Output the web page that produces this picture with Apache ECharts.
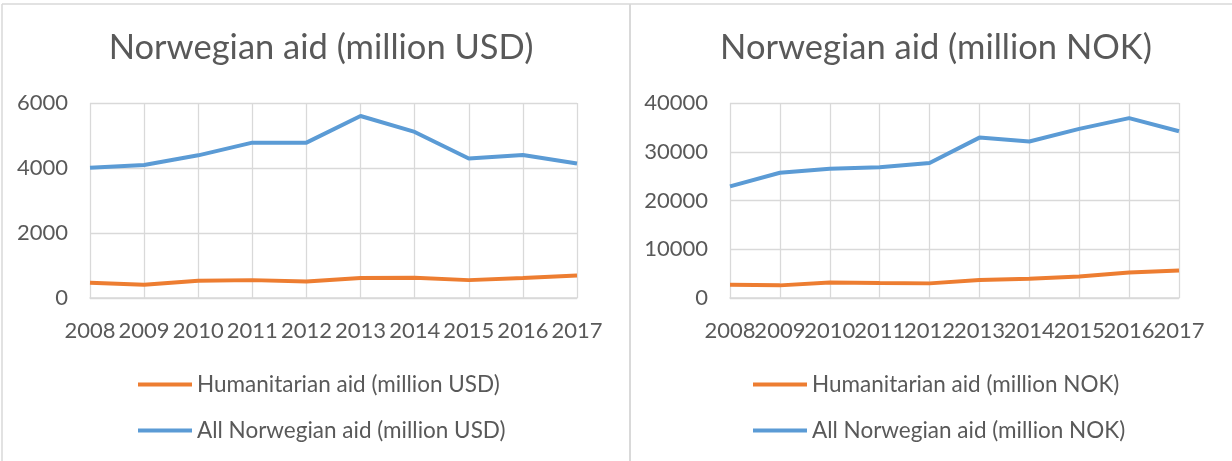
<!DOCTYPE html>
<html>
<head>
<meta charset="utf-8">
<script src="https://cdn.jsdelivr.net/npm/echarts@6/dist/echarts.min.js"></script>
<style>
html,body{margin:0;padding:0;background:#fff;}
#c{width:1232px;height:461px;}
</style>
</head>
<body>
<div id="c"></div>
<script>
var years = ['2008','2009','2010','2011','2012','2013','2014','2015','2016','2017'];
var humUSD = [470, 410, 530, 550, 510, 615, 625, 550, 615, 690];
var allUSD = [4010, 4090, 4390, 4780, 4780, 5600, 5110, 4290, 4400, 4140];
var humNOK = [2730, 2590, 3200, 3080, 3000, 3690, 3960, 4430, 5250, 5660];
var allNOK = [22900, 25700, 26500, 26800, 27700, 32900, 32100, 34700, 36900, 34200];
var usdTicks = {min: 0, max: 6000, interval: 2000};
var nokTicks = {min: 0, max: 40000, interval: 10000};
var titles = ['Norwegian aid (million USD)', 'Norwegian aid (million NOK)'];
var names = ['Humanitarian aid (million USD)', 'All Norwegian aid (million USD)',
             'Humanitarian aid (million NOK)', 'All Norwegian aid (million NOK)'];

var FONT = 'Lato';
var TXT = '#595959';
var GRID = '#d9d9d9';
var ORANGE = '#ed7d31';
var BLUE = '#5b9bd5';

function xAxis(i){
  return {
    type: 'category', gridIndex: i, data: years, boundaryGap: false,
    axisLine: {lineStyle: {color: GRID, width: 1.5}},
    axisTick: {show: false},
    splitLine: {show: true, lineStyle: {color: GRID, width: 1.3}},
    axisLabel: {color: TXT, fontFamily: FONT, fontSize: 22, margin: 22, interval: 0, hideOverlap: false}
  };
}
function yAxis(i, t){
  return {
    type: 'value', gridIndex: i, min: t.min, max: t.max, interval: t.interval,
    axisLine: {show: false}, axisTick: {show: false},
    splitLine: {lineStyle: {color: GRID, width: 1.3}},
    axisLabel: {color: TXT, fontFamily: FONT, fontSize: 22, margin: 22,
                formatter: function(v){ return String(v); }}
  };
}
function line(name, data, i, color){
  return {
    type: 'line', name: name, data: data, xAxisIndex: i, yAxisIndex: i,
    symbol: 'none', lineStyle: {color: color, width: 4}, itemStyle: {color: color},
    z: color === BLUE ? 3 : 2
  };
}
function legend(d, left){
  return {data: d, orient: 'vertical', left: left, top: 373, itemGap: 23, padding: 0,
     icon: 'rect', itemWidth: 54, itemHeight: 4,
     textStyle: {color: TXT, fontFamily: FONT, fontSize: 22.5, lineHeight: 22}};
}

var chart = echarts.init(document.getElementById('c'), null, {renderer: 'canvas'});
chart.setOption({
  animation: false,
  backgroundColor: '#fff',
  title: [
    {text: titles[0], left: 316, top: 25, textAlign: 'center',
     textStyle: {color: TXT, fontFamily: FONT, fontSize: 34.5, fontWeight: 'normal'}},
    {text: titles[1], left: 931, top: 25, textAlign: 'center',
     textStyle: {color: TXT, fontFamily: FONT, fontSize: 34.5, fontWeight: 'normal'}}
  ],
  grid: [
    {left: 90, right: 655, top: 103, bottom: 163},
    {left: 730, right: 53, top: 103, bottom: 163}
  ],
  xAxis: [xAxis(0), xAxis(1)],
  yAxis: [yAxis(0, usdTicks), yAxis(1, nokTicks)],
  legend: [legend([names[0], names[1]], 138), legend([names[2], names[3]], 753)],
  series: [
    line(names[0], humUSD, 0, ORANGE),
    line(names[1], allUSD, 0, BLUE),
    line(names[2], humNOK, 1, ORANGE),
    line(names[3], allNOK, 1, BLUE)
  ],
  graphic: [
    {type: 'line', shape: {x1: 2, y1: 4, x2: 1232, y2: 4}, style: {stroke: GRID, lineWidth: 1.5}, silent: true},
    {type: 'line', shape: {x1: 2, y1: 4, x2: 2, y2: 461}, style: {stroke: GRID, lineWidth: 1.5}, silent: true},
    {type: 'line', shape: {x1: 630, y1: 4, x2: 630, y2: 461}, style: {stroke: GRID, lineWidth: 2}, silent: true}
  ]
});
</script>
</body>
</html>
